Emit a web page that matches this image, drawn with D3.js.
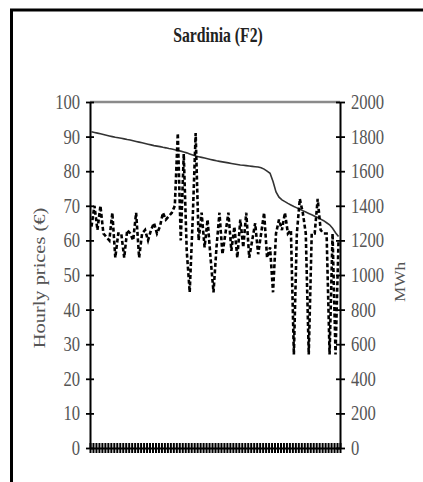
<!DOCTYPE html>
<html>
<head>
<meta charset="utf-8">
<script src="https://cdn.jsdelivr.net/npm/d3@7"></script>
<style>
  html, body { margin: 0; padding: 0; background: #fff; }
  svg { display: block; }
</style>
</head>
<body>
<div id="chart"></div>
<script>
// hourly prices (€), left axis, dashed
const prices = [64, 70, 63, 70, 62, 61, 60, 68, 55, 62,
                62, 55, 63, 62, 60, 68, 55, 62, 63, 60,
                63, 65, 62, 64, 68, 66, 67, 68, 70, 91,
                60, 85, 57, 45, 66, 91, 60, 68, 58, 66,
                55, 45, 58, 68, 56, 62, 68, 57, 64, 55,
                66, 58, 68, 55, 60, 65, 56, 62, 68, 55,
                58, 45, 62, 66, 63, 68, 62, 63, 27, 62,
                72, 68, 62, 27, 62, 62, 72, 63, 62, 62,
                27, 62, 27, 60];

// load (MWh), right axis, solid
const load = [1828, 1824, 1820, 1816, 1812, 1808, 1804, 1800, 1796, 1793,
              1790, 1787, 1783, 1780, 1776, 1772, 1768, 1764, 1760, 1756,
              1752, 1748, 1745, 1742, 1738, 1735, 1731, 1728, 1724, 1720,
              1716, 1711, 1706, 1700, 1694, 1688, 1684, 1680, 1676, 1672,
              1668, 1664, 1660, 1657, 1654, 1651, 1648, 1645, 1642, 1639,
              1636, 1634, 1632, 1630, 1628, 1626, 1624, 1620, 1612, 1600,
              1588, 1540, 1480, 1450, 1434, 1424, 1414, 1405, 1396, 1388,
              1380, 1372, 1364, 1356, 1348, 1340, 1332, 1323, 1314, 1302,
              1290, 1270, 1244, 1222];

const hours = prices.map((d, i) => i + 1);
const priceTicks = [0, 10, 20, 30, 40, 50, 60, 70, 80, 90, 100];
const loadTicks = [0, 200, 400, 600, 800, 1000, 1200, 1400, 1600, 1800, 2000];
const title = "Sardinia (F2)";
const leftLabel = "Hourly prices (€)";
const rightLabel = "MWh";

const W = 423, H = 482;
const plot = { left: 90, right: 340, top: 102, bottom: 448 };
const font = "'Liberation Serif', 'Times New Roman', serif";
const sx = 0.83; // the scan is squeezed sideways

const svg = d3.select("#chart").append("svg")
    .attr("width", W).attr("height", H);

// frame
svg.append("rect")
    .attr("x", 11.5).attr("y", 10)
    .attr("width", 520).attr("height", 600)
    .attr("fill", "none").attr("stroke", "#000").attr("stroke-width", 3);

// scales
const x = d3.scaleBand().domain(hours).range([plot.left, plot.right]);
const xEdge = d3.scaleLinear().domain([0, hours.length]).range([plot.left, plot.right]);
const yPrice = d3.scaleLinear().domain([0, 100]).range([plot.bottom, plot.top]);
const yLoad = d3.scaleLinear().domain([0, 2000]).range([plot.bottom, plot.top]);

// top border of plot area
svg.append("line")
    .attr("x1", plot.left).attr("x2", plot.right)
    .attr("y1", plot.top).attr("y2", plot.top)
    .attr("stroke", "#8a8a8a").attr("stroke-width", 2.5);

// load line
const lineLoad = d3.line()
    .x((d, i) => x(hours[i]) + x.bandwidth() / 2)
    .y(d => yLoad(d));
svg.append("path").datum(load)
    .attr("d", lineLoad)
    .attr("fill", "none").attr("stroke", "#333").attr("stroke-width", 1.6);

// price line (dashed)
const linePrice = d3.line()
    .x((d, i) => x(hours[i]) + x.bandwidth() / 2)
    .y(d => yPrice(d));
svg.append("path").datum(prices)
    .attr("d", linePrice)
    .attr("fill", "none").attr("stroke", "#000").attr("stroke-width", 2.6)
    .attr("stroke-dasharray", "4,2.5");

// axes
function styleAxis(g) {
    g.select(".domain").attr("stroke", "#000").attr("stroke-width", 2);
    g.selectAll(".tick line").attr("stroke", "#000").attr("stroke-width", 1.8);
    g.selectAll(".tick text")
        .attr("fill", "#555")
        .style("font-family", font)
        .style("font-size", "20px");
}

const axisL = svg.append("g")
    .attr("transform", `translate(${plot.left},0)`)
    .call(d3.axisLeft(yPrice).tickValues(priceTicks).tickSize(4).tickSizeOuter(0).tickFormat(d3.format("d")))
    .call(styleAxis);
axisL.selectAll(".tick line").attr("x1", 4);
axisL.selectAll(".tick text")
    .attr("transform", `scale(${sx},1)`)
    .attr("x", -10 / sx).attr("dy", "0.32em");

const axisR = svg.append("g")
    .attr("transform", `translate(${plot.right},0)`)
    .call(d3.axisRight(yLoad).tickValues(loadTicks).tickSize(5).tickSizeOuter(0).tickFormat(d3.format("d")))
    .call(styleAxis);
axisR.selectAll(".tick line").attr("x1", -4);
axisR.selectAll(".tick text")
    .attr("transform", `scale(${sx},1)`)
    .attr("x", 11 / sx).attr("dy", "0.32em");

const axisB = svg.append("g")
    .attr("transform", `translate(0,${plot.bottom})`)
    .call(d3.axisBottom(xEdge).tickValues(d3.range(hours.length + 1)).tickSize(5).tickSizeOuter(0).tickFormat(""))
    .call(styleAxis);
axisB.selectAll(".tick line").attr("y1", -5).attr("stroke-width", 2);

// title
svg.append("text")
    .attr("transform", `translate(218,42) scale(0.75,1)`)
    .attr("text-anchor", "middle")
    .style("font-family", font).style("font-size", "21px").style("font-weight", "bold")
    .attr("fill", "#222")
    .text(title);

// axis titles
svg.append("text")
    .attr("transform", "translate(39,278) rotate(-90) scale(1.2,1)")
    .attr("text-anchor", "middle").attr("dy", "0.35em")
    .style("font-family", font).style("font-size", "17px")
    .attr("fill", "#555")
    .text(leftLabel);

svg.append("text")
    .attr("transform", "translate(400,282) rotate(-90) scale(1.15,1)")
    .attr("text-anchor", "middle").attr("dy", "0.35em")
    .style("font-family", font).style("font-size", "15px")
    .attr("fill", "#555")
    .text(rightLabel);
</script>
</body>
</html>
